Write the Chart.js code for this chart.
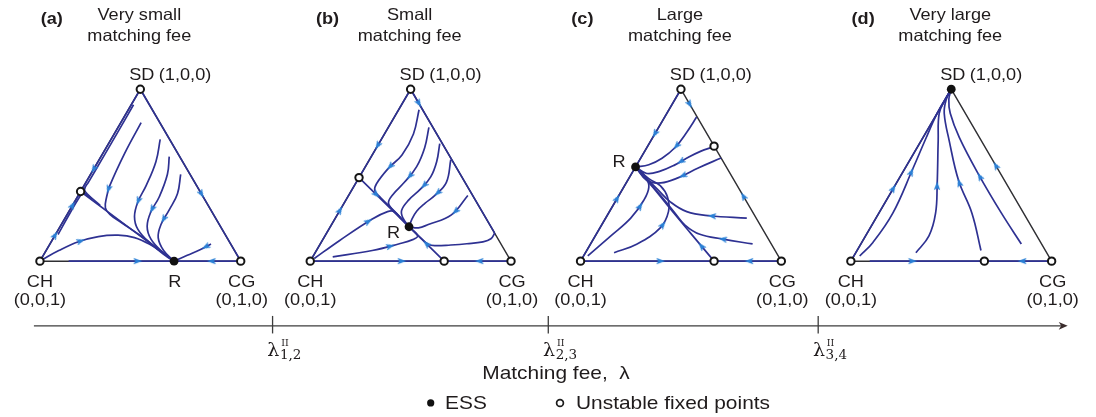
<!DOCTYPE html>
<html>
<head>
<meta charset="utf-8">
<title>Evolutionary dynamics under different matching fees</title>
<script src="https://cdn.jsdelivr.net/npm/chart.js@4.4.1/dist/chart.umd.min.js"></script>
<style>
  html, body { margin: 0; padding: 0; background: #fff; }
  canvas { display: block; }
</style>
</head>
<body>
<canvas id="chart" width="1096" height="417"></canvas>
<script>
// Simplex coordinates: u runs along the CH–CG base (0..1), v is the height towards SD (0..1).
const panelTags = ['(a)', '(b)', '(c)', '(d)'];
const panelTitles = [
  ['Very small', 'matching fee'],
  ['Small', 'matching fee'],
  ['Large', 'matching fee'],
  ['Very large', 'matching fee']
];
const vertexNames = ['SD', 'CG', 'CH'];
const vertexCoords = ['(1,0,0)', '(0,1,0)', '(0,0,1)'];
const simplexCorners = [[0, 0], [1, 0], [0.5, 1]];
const lambdaSubscripts = ['1,2', '2,3', '3,4'];
const axisTitle = 'Matching fee,  \u03bb';
const legendLabels = ['ESS', 'Unstable fixed points'];
const restLabel = 'R';

// Fixed points of each regime
const essPoints = [[[0.668, 0]], [[0.492, 0.2]], [[0.274, 0.548]], [[0.5, 1]]];
const unstablePoints = [
  [[0, 0], [1, 0], [0.5, 1], [0.2025, 0.405]],
  [[0, 0], [1, 0], [0.5, 1], [0.243, 0.486], [0.667, 0]],
  [[0, 0], [1, 0], [0.5, 1], [0.665, 0.669], [0.665, 0]],
  [[0, 0], [1, 0], [0.665, 0]]
];

// Trajectories listed in the direction of the flow; `arrows` are fractional vertex indices
// where a direction marker sits. traced:false marks a boundary flow shown by markers only.
const boundaryA = [
  { pts: [[0, 0], [0.2025, 0.405]], arrows: [0.36, 0.82] },
  { pts: [[0.5, 1], [0.2025, 0.405]], arrows: [0.80] },
  { pts: [[0.5, 1], [1, 0]], arrows: [0.62] },
  { pts: [[0.143, 0], [0.668, 0]], arrows: [0.67] },
  { pts: [[1, 0], [0.668, 0]], arrows: [0.43] }
];
const flowsA = [
  { pts: [[0.2025, 0.405], [0.668, 0]], arrows: [] },
  { pts: [[0.466, 0.91], [0.40, 0.775], [0.31, 0.595], [0.242, 0.46], [0.222, 0.418], [0.235, 0.392], [0.30, 0.325]], arrows: [] },
  { pts: [[0.09, 0.155], [0.15, 0.28], [0.198, 0.375], [0.215, 0.397], [0.26, 0.362]], arrows: [] },
  { pts: [[0.504, 0.806], [0.422, 0.627], [0.348, 0.439], [0.332, 0.373], [0.326, 0.31], [0.348, 0.272], [0.405, 0.225], [0.505, 0.145], [0.605, 0.057], [0.668, 0]], arrows: [2.3] },
  { pts: [[0.599, 0.708], [0.578, 0.580], [0.529, 0.439], [0.488, 0.345], [0.471, 0.260], [0.488, 0.185], [0.553, 0.100], [0.635, 0.024], [0.668, 0]], arrows: [2.95] },
  { pts: [[0.644, 0.608], [0.635, 0.505], [0.594, 0.373], [0.553, 0.288], [0.534, 0.203], [0.553, 0.128], [0.611, 0.053], [0.668, 0]], arrows: [2.85] },
  { pts: [[0.701, 0.505], [0.685, 0.392], [0.644, 0.298], [0.603, 0.213], [0.589, 0.137], [0.616, 0.062], [0.668, 0]], arrows: [2.65] },
  { pts: [[0.011, 0.009], [0.094, 0.062], [0.192, 0.113], [0.291, 0.143], [0.389, 0.151], [0.471, 0.137], [0.553, 0.094], [0.619, 0.043], [0.668, 0]], arrows: [2.1] },
  { pts: [[0.852, 0.100], [0.800, 0.068], [0.734, 0.034], [0.668, 0]], arrows: [0.5] }
];

const boundaryB = [
  { pts: [[0, 0], [0.243, 0.486]], arrows: [0.62] },
  { pts: [[0.5, 1], [0.243, 0.486]], arrows: [0.65] },
  { pts: [[0.5, 1], [0.918, 0.164]], arrows: [0.085] },
  { pts: [[0, 0], [0.667, 0]], arrows: [0.70] },
  { pts: [[1, 0], [0.667, 0]], arrows: [0.47] }
];
const flowsB = [
  { pts: [[0.243, 0.486], [0.492, 0.2]], arrows: [0.33] },
  { pts: [[0.667, 0], [0.492, 0.2]], arrows: [0.5] },
  { pts: [[0.542, 0.881], [0.514, 0.740], [0.457, 0.618], [0.391, 0.542], [0.33, 0.45], [0.322, 0.41], [0.35, 0.37], [0.42, 0.29], [0.492, 0.2]], arrows: [2.9] },
  { pts: [[0.591, 0.778], [0.570, 0.66], [0.53, 0.55], [0.47, 0.46], [0.41, 0.385], [0.39, 0.335], [0.43, 0.275], [0.492, 0.2]], arrows: [2.6] },
  { pts: [[0.645, 0.684], [0.63, 0.58], [0.60, 0.49], [0.55, 0.42], [0.49, 0.355], [0.455, 0.295], [0.462, 0.25], [0.492, 0.2]], arrows: [2.7] },
  { pts: [[0.700, 0.590], [0.678, 0.458], [0.621, 0.382], [0.571, 0.336], [0.53, 0.29], [0.505, 0.24], [0.492, 0.2]], arrows: [1.8] },
  { pts: [[0.785, 0.382], [0.703, 0.269], [0.588, 0.213], [0.539, 0.194], [0.492, 0.2]], arrows: [0.8] },
  { pts: [[0.92, 0.165], [0.90, 0.13], [0.86, 0.112], [0.78, 0.101], [0.70, 0.094], [0.62, 0.09], [0.588, 0.098], [0.55, 0.136], [0.492, 0.2]], arrows: [] },
  { pts: [[0.112, 0.025], [0.309, 0.062], [0.44, 0.10], [0.51, 0.125], [0.535, 0.148], [0.492, 0.2]], arrows: [1.7] },
  { pts: [[0.02, 0.015], [0.145, 0.119], [0.309, 0.245], [0.385, 0.288], [0.418, 0.288], [0.455, 0.245], [0.492, 0.2]], arrows: [1.9] }
];

const boundaryC = [
  { pts: [[0, 0], [0.274, 0.548]], arrows: [0.68] },
  { pts: [[0.5, 1], [0.274, 0.548]], arrows: [0.58] },
  { pts: [[0.5, 1], [0.665, 0.669]], arrows: [0.245], traced: false },
  { pts: [[1, 0], [0.665, 0.669]], arrows: [0.571], traced: false },
  { pts: [[0, 0], [0.665, 0]], arrows: [0.61] },
  { pts: [[1, 0], [0.665, 0]], arrows: [0.475] }
];
const flowsC = [
  { pts: [[0.665, 0], [0.55, 0.16], [0.45, 0.30], [0.36, 0.43], [0.30, 0.51], [0.274, 0.548]], arrows: [0.55] },
  { pts: [[0.578, 0.838], [0.529, 0.75], [0.471, 0.661], [0.406, 0.599], [0.34, 0.561], [0.274, 0.548]], arrows: [1.9] },
  { pts: [[0.655, 0.662], [0.60, 0.64], [0.53, 0.60], [0.47, 0.56], [0.40, 0.525], [0.33, 0.51], [0.274, 0.548]], arrows: [2.5] },
  { pts: [[0.70, 0.60], [0.586, 0.542], [0.488, 0.486], [0.40, 0.455], [0.33, 0.47], [0.274, 0.548]], arrows: [1.8] },
  { pts: [[0.036, 0.030], [0.151, 0.147], [0.250, 0.250], [0.315, 0.354], [0.340, 0.429], [0.325, 0.49], [0.274, 0.548]], arrows: [2.7] },
  { pts: [[0.167, 0.049], [0.282, 0.100], [0.397, 0.194], [0.438, 0.288], [0.433, 0.373], [0.397, 0.439], [0.34, 0.48], [0.274, 0.548]], arrows: [2.2] },
  { pts: [[0.828, 0.250], [0.644, 0.264], [0.529, 0.288], [0.447, 0.345], [0.381, 0.420], [0.33, 0.48], [0.274, 0.548]], arrows: [0.95] },
  { pts: [[0.857, 0.100], [0.709, 0.128], [0.594, 0.156], [0.52, 0.21], [0.47, 0.28], [0.40, 0.38], [0.33, 0.475], [0.274, 0.548]], arrows: [1.0] }
];

const boundaryD = [
  { pts: [[0, 0], [0.5, 1]], arrows: [0.414] },
  { pts: [[1, 0], [0.5, 1]], arrows: [0.561], traced: false },
  { pts: [[0.094, 0], [0.665, 0]], arrows: [0.36] },
  { pts: [[1, 0], [0.665, 0]], arrows: [0.43] }
];
const flowsD = [
  { pts: [[0.044, 0.030], [0.110, 0.109], [0.209, 0.279], [0.307, 0.533], [0.373, 0.712], [0.43, 0.86], [0.5, 1]], arrows: [2.95] },
  { pts: [[0.324, 0.049], [0.389, 0.147], [0.422, 0.279], [0.430, 0.448], [0.435, 0.70], [0.44, 0.86], [0.47, 0.94], [0.5, 1]], arrows: [2.95] },
  { pts: [[0.648, 0.062], [0.603, 0.279], [0.537, 0.467], [0.490, 0.70], [0.465, 0.86], [0.475, 0.94], [0.5, 1]], arrows: [1.95] },
  { pts: [[0.849, 0.100], [0.750, 0.279], [0.636, 0.505], [0.54, 0.72], [0.495, 0.86], [0.488, 0.94], [0.5, 1]], arrows: [1.95] }
];

// ---- layout -------------------------------------------------------------
const GAP = 1.3463;                 // horizontal spacing of the four simplices (in side lengths)
const X_MIN = -0.169, X_MAX = 5.230;
const Y_MIN = -0.8718, Y_MAX = 1.4842;
const ASPECT = 177 / 203;           // screen height of one v unit relative to one u unit
const TENSION = 0.4;
const FLOW = '#2e3192';
const MARK = '#2a80d6';
const EDGE = '#2f2f33';
const INK = '#1f1b1c';

const panels = [
  { boundary: boundaryA, flows: flowsA },
  { boundary: boundaryB, flows: flowsB },
  { boundary: boundaryC, flows: flowsC },
  { boundary: boundaryD, flows: flowsD }
];

const toXY = (k, p) => ({ x: k * GAP + p[0], y: p[1] });

// Position and heading on the same cubic spline Chart.js draws through the points
function markerAt(pts, f) {
  const i = Math.min(Math.floor(f), pts.length - 2), t = f - i;
  const P = pts.map(p => [p[0], p[1] * ASPECT]);
  const p0 = P[i], p3 = P[i + 1], pm = P[i - 1] || p0, pn = P[i + 2] || p3;
  const d = (a, b) => Math.hypot(a[0] - b[0], a[1] - b[1]);
  const d01 = d(pm, p0), d12 = d(p0, p3), d23 = d(p3, pn);
  const fb = (d01 + d12) ? TENSION * d12 / (d01 + d12) : 0;
  const fa = (d12 + d23) ? TENSION * d12 / (d12 + d23) : 0;
  const c1 = [p0[0] + fb * (p3[0] - pm[0]), p0[1] + fb * (p3[1] - pm[1])];
  const c2 = [p3[0] - fa * (pn[0] - p0[0]), p3[1] - fa * (pn[1] - p0[1])];
  const s = 1 - t;
  const pos = [0, 1].map(j => s * s * s * p0[j] + 3 * s * s * t * c1[j] + 3 * s * t * t * c2[j] + t * t * t * p3[j]);
  let der = [0, 1].map(j => 3 * s * s * (c1[j] - p0[j]) + 6 * s * t * (c2[j] - c1[j]) + 3 * t * t * (p3[j] - c2[j]));
  if (Math.hypot(der[0], der[1]) < 1e-9) der = [p3[0] - p0[0], p3[1] - p0[1]];
  return { u: pos[0], v: pos[1] / ASPECT, du: der[0], dv: der[1] / ASPECT };
}

// Arrowhead used as point style, pointing up before rotation
const head = document.createElement('canvas');
head.width = 10; head.height = 10;
(() => {
  const c = head.getContext('2d');
  c.fillStyle = MARK;
  c.beginPath();
  c.moveTo(5, 0.5); c.lineTo(8.2, 9.2); c.lineTo(5, 7.6); c.lineTo(1.8, 9.2);
  c.closePath(); c.fill();
})();

const datasets = [];
panels.forEach((p, k) => {
  datasets.push({
    data: [...simplexCorners, simplexCorners[0]].map(c => toXY(k, c)),
    showLine: true, borderColor: EDGE, borderWidth: 1.5, pointRadius: 0, tension: 0, order: 5
  });
  [...p.boundary, ...p.flows].forEach(path => {
    if (path.traced === false) return;
    datasets.push({
      data: path.pts.map(c => toXY(k, c)),
      showLine: true, borderColor: FLOW, borderWidth: 1.7, pointRadius: 0, tension: TENSION, order: 4
    });
  });
});

const marks = [];
panels.forEach((p, k) => {
  [...p.boundary, ...p.flows].forEach(path => path.arrows.forEach(f => {
    const m = markerAt(path.pts, f);
    marks.push({ x: k * GAP + m.u, y: m.v, dx: m.du, dy: m.dv });
  }));
});
datasets.push({
  data: marks, pointStyle: head, pointRadius: 4, order: 3,
  pointRotation: (c) => {
    const r = c.raw;
    if (!r || r.dx === undefined) return 0;
    const xs = c.chart.scales.x, ys = c.chart.scales.y;
    const dx = xs.getPixelForValue(r.x + r.dx) - xs.getPixelForValue(r.x);
    const dy = ys.getPixelForValue(r.y + r.dy) - ys.getPixelForValue(r.y);
    return Math.atan2(dy, dx) * 180 / Math.PI + 90;
  }
});
datasets.push({
  data: unstablePoints.flatMap((list, k) => list.map(c => toXY(k, c))),
  pointStyle: 'circle', pointRadius: 3.7, pointBackgroundColor: '#fff',
  pointBorderColor: '#151515', pointBorderWidth: 2, order: 1
});
datasets.push({
  data: essPoints.flatMap((list, k) => list.map(c => toXY(k, c))),
  pointStyle: 'circle', pointRadius: 4.4, pointBackgroundColor: '#111',
  pointBorderColor: '#111', pointBorderWidth: 0, order: 0
});

// ---- text, regime axis and legend ------------------------------------------
function label(ctx, text, x, y, o = {}) {
  ctx.save();
  ctx.font = (o.bold ? 'bold ' : '') + (o.size || 16.5) + 'px ' + (o.family || '"Liberation Sans", Arial, sans-serif');
  ctx.fillStyle = o.color || INK;
  ctx.textAlign = o.align || 'center';
  ctx.textBaseline = 'alphabetic';
  ctx.translate(x, y);
  ctx.scale(o.stretch || 1.1, 1);
  ctx.fillText(text, 0, 0);
  ctx.restore();
}

const SERIF = '"DejaVu Serif", "Liberation Serif", serif';
const tagShift = [0.7, 5.7, -9.3, 0.7];
const restShift = [[0.7, 25.6], [-15.5, 11], [-16.6, 0.3]];
const tickShift = [-2.9, 2.5, 2.1];

const annotations = {
  id: 'annotations',
  afterDraw(chart) {
    const { ctx, scales: { x, y } } = chart;
    const px = (k, u) => x.getPixelForValue(k * GAP + u);
    const py = v => y.getPixelForValue(v);
    const top = py(1), base = py(0);

    for (let k = 0; k < panels.length; k++) {
      const ch = px(k, 0), cg = px(k, 1), apex = px(k, 0.5);
      label(ctx, panelTags[k], ch + tagShift[k], top - 65.7, { bold: true, align: 'left' });
      label(ctx, panelTitles[k][0], apex - 1, top - 69);
      label(ctx, panelTitles[k][1], apex - 1, top - 48);
      label(ctx, vertexNames[0], apex + 1.5, top - 9.7);
      label(ctx, vertexCoords[0], apex + 18.5, top - 9.7, { align: 'left' });
      label(ctx, vertexNames[2], ch, base + 25.6);
      label(ctx, vertexCoords[2], ch, base + 44);
      label(ctx, vertexNames[1], cg + 1, base + 25.6);
      label(ctx, vertexCoords[1], cg + 1, base + 44);
    }
    restShift.forEach((s, k) => {
      const e = essPoints[k][0];
      label(ctx, restLabel, px(k, e[0]) + s[0], py(e[1]) + s[1]);
    });

    // regime axis
    const ay = base + 64.7, ax0 = px(0, -0.03), ax1 = px(3, 1.08);
    ctx.save();
    ctx.strokeStyle = '#3c3c3c';
    ctx.lineWidth = 1.3;
    ctx.beginPath(); ctx.moveTo(ax0, ay); ctx.lineTo(ax1 - 4, ay); ctx.stroke();
    ctx.fillStyle = '#3a2c2c';
    ctx.beginPath();
    ctx.moveTo(ax1, ay); ctx.lineTo(ax1 - 9, ay - 3.8); ctx.lineTo(ax1 - 6.5, ay); ctx.lineTo(ax1 - 9, ay + 3.8);
    ctx.closePath(); ctx.fill();
    lambdaSubscripts.forEach((sub, k) => {
      const tx = (px(k, 1) + px(k + 1, 0)) / 2 + tickShift[k];
      ctx.beginPath(); ctx.moveTo(tx, ay - 9.9); ctx.lineTo(tx, ay + 7.6); ctx.stroke();
      label(ctx, '\u03bb', tx + 0.8, ay + 30.4, { family: SERIF, size: 19, stretch: 1 });
      label(ctx, 'II', tx + 8.6, ay + 20.2, { family: SERIF, size: 9.5, stretch: 1, align: 'left' });
      label(ctx, sub, tx + 7.4, ay + 32.8, { family: SERIF, size: 13.5, stretch: 1, align: 'left' });
    });
    ctx.restore();

    label(ctx, axisTitle, chart.width / 2 + 8, ay + 53.6, { size: 19 });

    // legend
    const ly = ay + 77.1;
    ctx.save();
    ctx.fillStyle = '#111';
    ctx.beginPath(); ctx.arc(430.7, ly, 3.6, 0, Math.PI * 2); ctx.fill();
    ctx.strokeStyle = '#1d1d1d'; ctx.lineWidth = 1.7;
    ctx.beginPath(); ctx.arc(560, ly, 3.4, 0, Math.PI * 2); ctx.stroke();
    ctx.restore();
    label(ctx, legendLabels[0], 445, ly + 6, { size: 19, align: 'left' });
    label(ctx, legendLabels[1], 576, ly + 6, { size: 19, align: 'left' });
  }
};

new Chart(document.getElementById('chart'), {
  type: 'scatter',
  data: { datasets },
  options: {
    responsive: false,
    animation: false,
    events: [],
    layout: { padding: 0 },
    plugins: { legend: { display: false }, tooltip: { enabled: false } },
    scales: {
      x: { type: 'linear', min: X_MIN, max: X_MAX, display: false },
      y: { type: 'linear', min: Y_MIN, max: Y_MAX, display: false }
    }
  },
  plugins: [annotations]
});
</script>
</body>
</html>
